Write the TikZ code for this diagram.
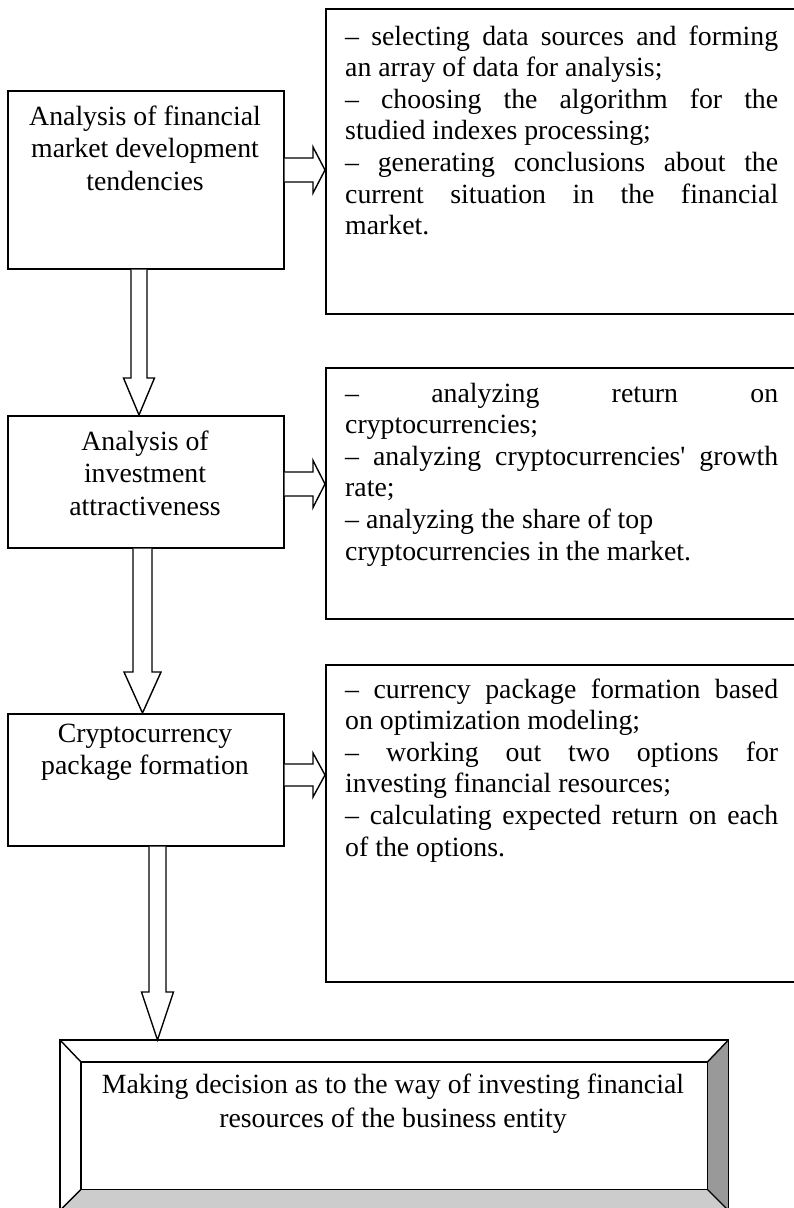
\documentclass[tikz,border=0pt]{standalone}
\usepackage{fontspec}
\setmainfont{Liberation Serif}
\usetikzlibrary{calc}

% hollow block arrow pointing down from the bottom of #1 to the top of #2
% #3 axis x, #4 shaft half width, #5 head half width, #6 head length
\newcommand\hollowdown[6]{%
  \draw[hollow] let \p1=(#1.south), \p2=(#2.north) in
    (#3pt-#4pt,\y1) -- (#3pt-#4pt,\y2+#6pt) -- (#3pt-#5pt,\y2+#6pt) -- (#3pt,\y2)
    -- (#3pt+#5pt,\y2+#6pt) -- (#3pt+#4pt,\y2+#6pt) -- (#3pt+#4pt,\y1);}

% hollow block arrow pointing right from the side of #1 to the side of #2
% #3 axis y, #4 shaft half width, #5 head half width, #6 head length
\newcommand\hollowright[6]{%
  \draw[hollow] let \p1=(#1.east), \p2=(#2.west) in
    (\x1,-#3pt+#4pt) -- (\x2-#6pt,-#3pt+#4pt) -- (\x2-#6pt,-#3pt+#5pt) -- (\x2,-#3pt)
    -- (\x2-#6pt,-#3pt-#5pt) -- (\x2-#6pt,-#3pt-#4pt) -- (\x1,-#3pt-#4pt);}

\newcommand\listbox[2]{\parbox[t]{#1}{\tolerance=10000\hbadness=10000\hyphenpenalty=10000 #2}}

\begin{document}
\begin{tikzpicture}[x=1pt,y=-1pt,
  frame/.style={draw, line width=1.6pt, rectangle, inner sep=0pt, anchor=north west},
  hollow/.style={draw, line width=1.4pt, fill=white, line join=miter},
  centred/.style={inner sep=0pt, anchor=base, font=\fontsize{27.8}{32.5}\selectfont},
  listtext/.style={inner sep=0pt, anchor=base west, font=\fontsize{27.8}{31.6}\selectfont},
  bevel/.style={line width=1.4pt, line join=miter},
]
\useasboundingbox (0,0) rectangle (794,1208);
\clip (0,0) rectangle (794,1208);

% stage boxes on the left
\node[frame, minimum width=276pt, minimum height=178pt] (box1) at (7,90) {};
\node[frame, minimum width=276pt, minimum height=132pt] (box2) at (7,415) {};
\node[frame, minimum width=276pt, minimum height=132pt] (box3) at (7,713) {};

\node[centred] (box1text) at (145,125)
  {\parbox[t]{260pt}{\centering Analysis of financial\\market development\\tendencies}};
\node[centred] (box2text) at (145,450)
  {\parbox[t]{260pt}{\centering Analysis of\\investment\\attractiveness}};
\node[centred] (box3text) at (145,742)
  {\parbox[t]{260pt}{\centering Cryptocurrency\\package formation}};

% task lists on the right
\node[frame, minimum width=500pt, minimum height=305pt] (list1) at (325,8) {};
\node[frame, minimum width=500pt, minimum height=251pt] (list2) at (325,367) {};
\node[frame, minimum width=500pt, minimum height=317pt] (list3) at (325,664) {};

\node[listtext] (list1text) at (345,45) {\listbox{433pt}{%
– selecting data sources and forming\linebreak an array of data for analysis;\\
– choosing the algorithm for the\linebreak studied indexes processing;\\
– generating conclusions about the\linebreak current situation in the financial\linebreak market.}};

\node[listtext] (list2text) at (345,402) {\listbox{433pt}{%
– analyzing return on\linebreak cryptocurrencies;\\
– analyzing cryptocurrencies\textquotesingle{} growth\linebreak rate;\\
– analyzing the share of top\\
cryptocurrencies in the market.}};

\node[listtext] (list3text) at (345,698) {\listbox{433pt}{%
– currency package formation based\linebreak on optimization modeling;\\
– working out two options for\linebreak investing financial resources;\\
– calculating expected return on each\linebreak of the options.}};

% bevelled decision box
\node[inner sep=0pt, anchor=north west, minimum width=668pt, minimum height=170pt] (decisionouter) at (60,1040) {};
\node[inner sep=0pt, anchor=north west, minimum width=626pt, minimum height=127pt] (decisioninner) at (81,1062) {};
\fill[white] (decisionouter.north west) -- (decisionouter.north east) -- (decisioninner.north east) -- (decisioninner.north west) -- cycle;
\fill[white] (decisionouter.north west) -- (decisioninner.north west) -- (decisioninner.south west) -- (decisionouter.south west) -- cycle;
\fill[black!40] (decisionouter.north east) -- (decisionouter.south east) -- (decisioninner.south east) -- (decisioninner.north east) -- cycle;
\fill[black!20] (decisioninner.south west) -- (decisioninner.south east) -- (decisionouter.south east) -- (decisionouter.south west) -- cycle;
\draw[bevel] (decisionouter.north west) rectangle (decisionouter.south east);
\draw[bevel] (decisioninner.north west) rectangle (decisioninner.south east);
\draw[bevel] (decisionouter.north west) -- (decisioninner.north west)
             (decisionouter.north east) -- (decisioninner.north east)
             (decisionouter.south west) -- (decisioninner.south west)
             (decisionouter.south east) -- (decisioninner.south east);
\node[inner sep=0pt, anchor=base, font=\fontsize{27.8}{34}\selectfont] (decisiontext) at (393,1093)
  {\parbox[t]{620pt}{\centering Making decision as to the way of investing financial\\resources of the business entity}};

% flow between the stages
\hollowdown{box1}{box2}{139}{8}{15.5}{37}
\hollowdown{box2}{box3}{142.5}{9.5}{18.5}{41}
\hollowdown{box3}{decisionouter}{157.5}{8.5}{16}{48}

% links from each stage to its tasks
\hollowright{box1}{list1}{170}{12}{23}{12}
\hollowright{box2}{list2}{484}{12}{23.5}{12}
\hollowright{box3}{list3}{775}{11}{22}{12}
\end{tikzpicture}
\end{document}
